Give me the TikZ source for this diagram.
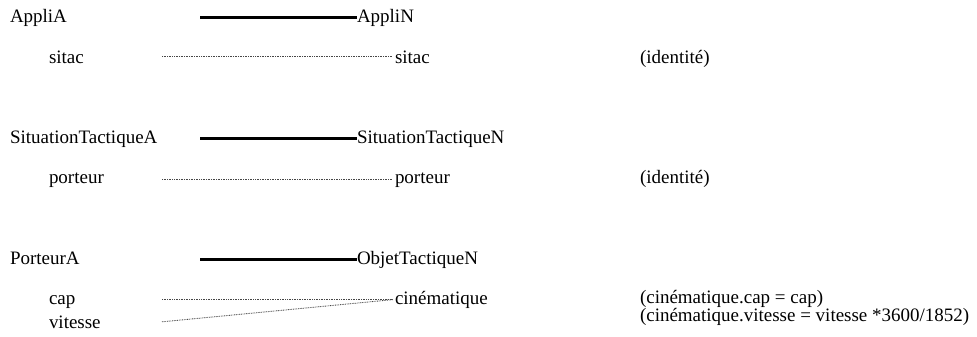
\documentclass[tikz,border=0pt]{standalone}
\usepackage{fontspec}
\setmainfont{Liberation Serif}

\begin{document}
\begin{tikzpicture}[x=0.025cm, y=-0.025cm,
        every node/.style={inner sep=0pt, outer sep=0pt, anchor=base west,
            font=\fontsize{13.5}{16}\selectfont},
        lien/.style={line width=2pt, black},
        corresp/.style={gray!55!black, line width=0.6pt,
            dash pattern=on 0.6pt off 0.6pt, shorten >=1.4pt}]
        % 1. VARIÁVEIS (colonnes, en px)
        \def\xA{10}   % classes cote A
        \def\xa{49}   % attributs cote A
        \def\xN{357}  % classes cote N
        \def\xn{395}  % attributs cote N
        \def\xC{640}  % commentaires

        \useasboundingbox (0,0) rectangle (977,336);

        % ==========================================
        % 2. APPLI
        % ==========================================
        \node (appA) at (\xA, 22) {AppliA};
        \node (appN) at (\xN, 22) {AppliN};
        \node (sitA) at (\xa, 63) {sitac};
        \node (sitN) at (\xn, 63) {sitac};
        \node (id1)  at (\xC, 63) {(identité)};
        \path (appN.west) ++(-157,0) coordinate (l1);
        \path (sitN.west) ++(-233,0) coordinate (l2);
        \draw[lien] (l1) -- (appN.west);
        \draw[corresp] (l2) -- (sitN.west);

        % ==========================================
        % 3. SITUATION TACTIQUE
        % ==========================================
        \node (staA) at (\xA, 143) {SituationTactiqueA};
        \node (staN) at (\xN, 143) {SituationTactiqueN};
        \node (porA) at (\xa, 183) {porteur};
        \node (porN) at (\xn, 183) {porteur};
        \node (id2)  at (\xC, 183) {(identité)};
        \path (staN.west) ++(-157,0) coordinate (l3);
        \path (porN.west) ++(-233,0) coordinate (l4);
        \draw[lien] (l3) -- (staN.west);
        \draw[corresp] (l4) -- (porN.west);

        % ==========================================
        % 4. PORTEUR / OBJET TACTIQUE
        % ==========================================
        \node (ptA)  at (\xA, 264) {PorteurA};
        \node (otN)  at (\xN, 264) {ObjetTactiqueN};
        \node (cap)  at (\xa, 304) {cap};
        \node (vit)  at (\xa, 328) {vitesse};
        \node (cin)  at (\xn, 304) {cinématique};
        \node (cm1)  at (\xC, 303) {(cinématique.cap = cap)};
        \node (cm2)  at (\xC, 321) {(cinématique.vitesse = vitesse *3600/1852)};
        \path (otN.west) ++(-157,0) coordinate (l5);
        \path (cin.west) ++(-233,0) coordinate (l6);
        \coordinate (l7) at (l6 |- vit.east);
        \draw[lien] (l5) -- (otN.west);
        \draw[corresp] (l6) -- (cin.west);
        \draw[corresp] (l7) -- (cin.west);

    \end{tikzpicture}
\end{document}
